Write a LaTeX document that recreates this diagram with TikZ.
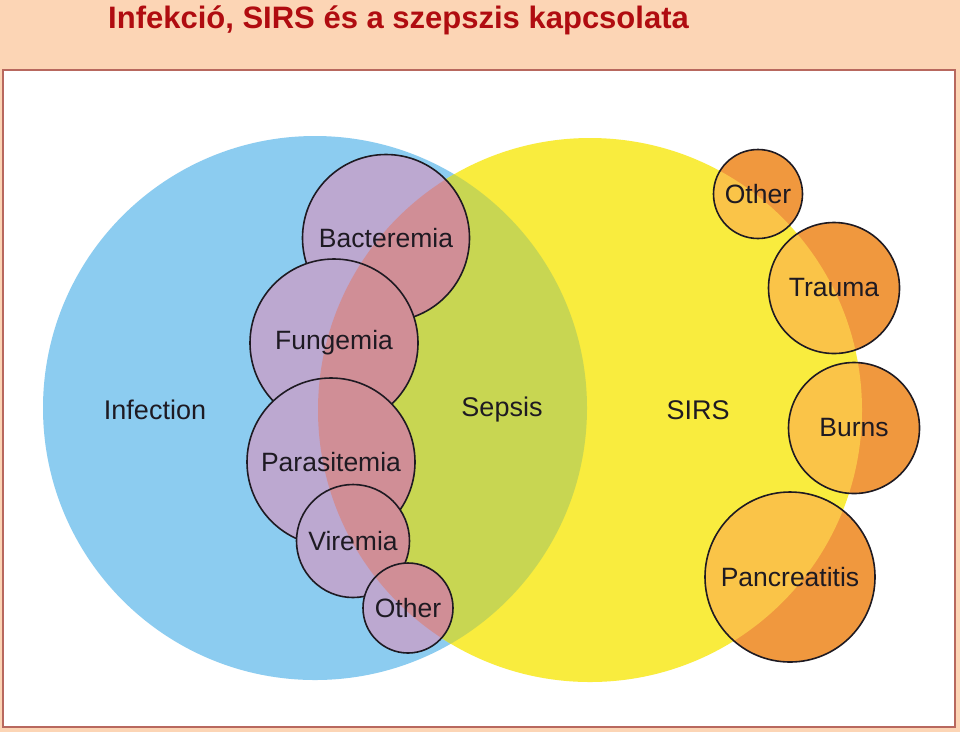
\documentclass[tikz,border=0pt]{standalone}
\usepackage{fontspec}
\setmainfont{Liberation Sans}
\usepackage{tikz}
\usetikzlibrary{shapes}
\usetikzlibrary{calc,backgrounds}
\usetikzlibrary{positioning}
\definecolor{peach}{RGB}{252,213,181}
\definecolor{titlered}{RGB}{176,12,16}
\definecolor{framered}{RGB}{184,104,94}
\definecolor{infblue}{RGB}{140,204,240}
\definecolor{sirsyellow}{RGB}{249,236,62}
\definecolor{sepgreen}{RGB}{200,214,82}
\definecolor{infpurple}{RGB}{188,168,208}
\definecolor{seprose}{RGB}{208,142,150}
\definecolor{darkorange}{RGB}{240,152,62}
\definecolor{lightorange}{RGB}{250,196,72}
\definecolor{inkblack}{RGB}{30,26,34}
\tikzstyle{bigset}=[shape=circle,inner sep=0pt,minimum size=544pt]
\tikzstyle{setlabel}=[text=inkblack,font=\fontsize{27}{27}\selectfont]
\tikzstyle{subset}=[shape=circle,draw=inkblack,line width=1.6pt,inner sep=0pt,text=inkblack,font=\fontsize{26.5}{27}\selectfont]
\tikzstyle{bloodset}=[subset,fill=infpurple,path picture={\fill[seprose] (sirs.center) circle (272pt);}]
\tikzstyle{noninf}=[subset,fill=darkorange,path picture={\fill[lightorange] (sirs.center) circle (272pt);}]

\begin{document}
\begin{tikzpicture}[x=1pt,y=-1pt]

 \fill[peach] (0,0) rectangle (960,732);
 \node at (108,28) [anchor=base west,inner sep=0pt,text=titlered,font=\bfseries\fontsize{31}{31}\selectfont] (title) {Infekció, SIRS és a szepszis kapcsolata};
 \draw[framered,line width=1.5pt,fill=white] (3,70) rectangle (955,727);

 % the two big sets and their overlap
 \node[bigset,fill=infblue] (inf) at (315,408) {};
 \node[bigset,fill=sirsyellow] (sirs) at (590,410) {};
 \begin{scope}
  \clip (inf.center) circle (272pt);
  \fill[sepgreen] (sirs.center) circle (272pt);
 \end{scope}

 \node[setlabel] (inflabel) at (155,410) {Infection};
 \node[setlabel] (seplabel) at (502,410) {Sepsis};
 \node[setlabel] (sirslabel) at (698,410) {SIRS};

 % infections
 \node[bloodset,minimum size=167pt] (bact) at (386,238) {Bacteremia};
 \node[bloodset,minimum size=168pt] (fung) at (334,343) {Fungemia};
 \node[bloodset,minimum size=168pt] (para) at (331,462) {Parasitemia};
 \node[bloodset,minimum size=113pt] (vir) at (353,541) {Viremia};
 \node[bloodset,minimum size=90pt] (infother) at (408,608) {Other};

 % non infectious causes
 \node[noninf,minimum size=89pt] (sirsother) at (758,194) {Other};
 \node[noninf,minimum size=131pt] (trauma) at (834,288) {Trauma};
 \node[noninf,minimum size=131pt] (burns) at (854,428) {Burns};
 \node[noninf,minimum size=170pt] (panc) at (790,577) {Pancreatitis};

\end{tikzpicture}
\end{document}
